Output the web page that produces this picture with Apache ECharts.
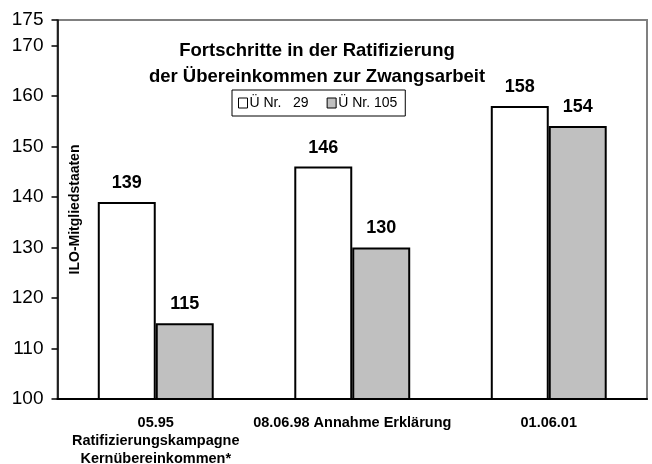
<!DOCTYPE html>
<html>
<head>
<meta charset="utf-8">
<script src="https://cdn.jsdelivr.net/npm/echarts@6/dist/echarts.min.js"></script>
<style>
html,body{margin:0;padding:0;background:#fff}
#chart{width:652px;height:464px}
</style>
</head>
<body>
<div id="chart"></div>
<script>
// Fortschritte in der Ratifizierung – Ü Nr. 29 / Ü Nr. 105
const categories=['05.95\nRatifizierungskampagne\nKernübereinkommen*','08.06.98 Annahme Erklärung','01.06.01'];
const nr29=[139,146,158];
const nr105=[115,130,154];
const seriesNames=['Ü Nr.   29','Ü Nr. 105'];
const FONT='"Liberation Sans", Arial, sans-serif';

const chart=echarts.init(document.getElementById('chart'));
const barLabel={show:true,position:'top',distance:10,color:'#000',
  fontFamily:FONT,fontWeight:'bold',fontSize:18};

chart.setOption({
  animation:false,
  backgroundColor:'#fff',
  textStyle:{fontFamily:FONT},
  grid:{left:57.5,right:5,top:20,bottom:65,outerBoundsMode:'none',containLabel:false,
    show:true,borderColor:'#808080',borderWidth:2,backgroundColor:'transparent'},
  graphic:[{type:'text',x:317,y:38,
    style:{text:'Fortschritte in der Ratifizierung\nder Übereinkommen zur Zwangsarbeit',
      align:'center',textAlign:'center',lineHeight:26,fill:'#000',
      font:'bold 18.5px "Liberation Sans", Arial, sans-serif'}}],
  legend:{left:232,top:90,width:175,height:28,orient:'horizontal',
    data:seriesNames,icon:'rect',itemWidth:9,itemHeight:10,itemGap:18,
    borderColor:'#000',borderWidth:1,borderRadius:0,padding:[6,8,6,6],backgroundColor:'#fff',
    textStyle:{fontFamily:FONT,fontSize:14,color:'#000',padding:[0,0,0,-3]},
    itemStyle:{borderColor:'#000',borderWidth:1}},
  xAxis:{type:'category',data:categories,
    axisLine:{lineStyle:{color:'#000',width:2}},
    axisTick:{show:false},
    axisLabel:{interval:0,color:'#000',fontFamily:FONT,fontWeight:'bold',fontSize:14.5,lineHeight:18,margin:15}},
  yAxis:{type:'value',min:100,max:175,interval:10,
    name:'ILO-Mitgliedstaaten',nameLocation:'middle',nameGap:-25,nameRotate:90,nameMoveOverlap:false,
    nameTextStyle:{fontFamily:FONT,fontWeight:'bold',fontSize:14,color:'#000'},
    axisLine:{show:true,lineStyle:{color:'#000',width:1.5}},
    axisTick:{show:true,length:6,lineStyle:{color:'#000',width:1.5}},
    splitLine:{show:false},
    axisLabel:{color:'#000',fontFamily:FONT,fontSize:19,margin:14}},
  series:[
    {name:seriesNames[0],type:'bar',data:nr29,barWidth:'29.5%',barGap:'0%',
     itemStyle:{color:'#fff',borderColor:'#000',borderWidth:2},label:barLabel},
    {name:seriesNames[1],type:'bar',data:nr105,barWidth:'29.5%',barGap:'0%',
     itemStyle:{color:'#c0c0c0',borderColor:'#000',borderWidth:2},label:barLabel}
  ]
});
</script>
</body>
</html>
